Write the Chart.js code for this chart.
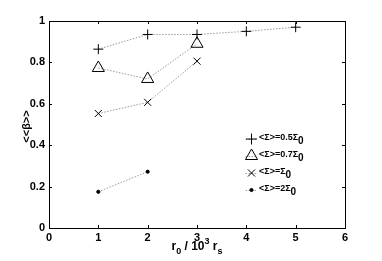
<!DOCTYPE html>
<html>
<head>
<meta charset="utf-8">
<script src="https://cdn.jsdelivr.net/npm/chart.js@4"></script>
<style>
  html, body { margin: 0; padding: 0; background: #fff; }
  #wrap { width: 382px; height: 261px; }
</style>
</head>
<body>
<div id="wrap"><canvas id="chart" width="382" height="261"></canvas></div>
<script>
// Data
const xHalf = [1, 2, 3, 4, 5];
const yHalf = [0.864, 0.935, 0.935, 0.95, 0.97];
const xSeven = [1, 2, 3];
const ySeven = [0.773, 0.72, 0.89];
const xOne = [1, 2, 3];
const yOne = [0.553, 0.607, 0.806];
const xTwo = [1, 2];
const yTwo = [0.175, 0.272];

const xTicks = [0, 1, 2, 3, 4, 5, 6];
const yTicks = [0, 0.2, 0.4, 0.6, 0.8, 1];

// legend: main text, subscript
const legendItems = [
    { text: '<\u03A3>=0.5\u03A3', sub: '0', style: 'cross', r: 5.5 },
    { text: '<\u03A3>=0.7\u03A3', sub: '0', style: 'triangle', r: 7 },
    { text: '<\u03A3>=\u03A3', sub: '0', style: 'crossRot', r: 5 },
    { text: '<\u03A3>=2\u03A3', sub: '0', style: 'circle', r: 1.6 }
];

const FONT = '"Liberation Sans", Arial, sans-serif';
const lineGray = '#9a9a9a';

function toPoints(xs, ys) {
    return xs.map((x, i) => ({ x: x, y: ys[i] }));
}

function makeSet(xs, ys, style, radius, fill) {
    return {
        data: toPoints(xs, ys),
        showLine: true,
        borderColor: lineGray,
        borderWidth: 1,
        borderDash: [1.5, 1.5],
        pointStyle: style,
        pointRadius: radius,
        pointBorderColor: '#000',
        pointBorderWidth: 1,
        pointBackgroundColor: fill ? '#000' : 'rgba(0,0,0,0)',
        tension: 0
    };
}

// frame, inward ticks, axis titles, legend
const decorations = {
    id: 'decorations',
    afterDatasetsDraw(chart) {
        const ctx = chart.ctx;
        const a = chart.chartArea;
        const xs = chart.scales.x;
        const ys = chart.scales.y;
        ctx.save();
        ctx.strokeStyle = '#000';
        ctx.lineWidth = 1;
        ctx.strokeRect(a.left + 0.5, a.top + 0.5, a.right - a.left, a.bottom - a.top);

        ctx.beginPath();
        xTicks.forEach(v => {
            const px = Math.round(xs.getPixelForValue(v)) + 0.5;
            ctx.moveTo(px, a.bottom); ctx.lineTo(px, a.bottom - 3);
            ctx.moveTo(px, a.top); ctx.lineTo(px, a.top + 3);
        });
        yTicks.forEach(v => {
            const py = Math.round(ys.getPixelForValue(v)) + 0.5;
            ctx.moveTo(a.left, py); ctx.lineTo(a.left + 3, py);
            ctx.moveTo(a.right, py); ctx.lineTo(a.right - 3, py);
        });
        ctx.stroke();

        // x title: r0 / 10^3 rs
        ctx.fillStyle = '#000';
        ctx.textBaseline = 'alphabetic';
        ctx.textAlign = 'left';
        const big = 'bold 12px ' + FONT;
        const small = 'bold 9px ' + FONT;
        const parts = [
            { t: 'r', f: big, dy: 0 },
            { t: '0', f: small, dy: 4 },
            { t: ' / 10', f: big, dy: 0 },
            { t: '3', f: small, dy: -6 },
            { t: ' r', f: big, dy: 0 },
            { t: 's', f: small, dy: 4 }
        ];
        let total = 0;
        parts.forEach(p => { ctx.font = p.f; total += ctx.measureText(p.t).width; });
        let cx = (a.left + a.right) / 2 - total / 2;
        const base = 250;
        parts.forEach(p => {
            ctx.font = p.f;
            ctx.fillText(p.t, cx, base + p.dy);
            cx += ctx.measureText(p.t).width;
        });

        // y title
        ctx.save();
        ctx.translate(30, (a.top + a.bottom) / 2 + 2);
        ctx.rotate(-Math.PI / 2);
        ctx.font = 'bold 11px ' + FONT;
        ctx.textAlign = 'center';
        ctx.fillText('<<\u03B2>>', 0, 0);
        ctx.restore();

        // legend
        const rowsY = [139, 156, 173, 190];
        const mx = 251.5;
        legendItems.forEach((it, i) => {
            const y = rowsY[i];
            ctx.save();
            ctx.strokeStyle = lineGray;
            ctx.setLineDash([1.5, 1.5]);
            ctx.beginPath();
            ctx.moveTo(mx - 6, y + 0.5);
            ctx.lineTo(mx + 5, y + 0.5);
            ctx.stroke();
            ctx.restore();
            ctx.strokeStyle = '#000';
            ctx.fillStyle = it.style === 'circle' ? '#000' : 'rgba(0,0,0,0)';
            ctx.lineWidth = 1;
            Chart.helpers.drawPoint(ctx, { pointStyle: it.style, radius: it.r, rotation: 0, borderWidth: 1 }, mx, y);
            ctx.fillStyle = '#000';
            ctx.font = 'bold 9px ' + FONT;
            ctx.fillText(it.text, 259, y + 1);
            const w = ctx.measureText(it.text).width;
            ctx.font = 'bold 10px ' + FONT;
            ctx.fillText(it.sub, 259 + w, y + 5);
        });
        ctx.restore();
    }
};

const ctx = document.getElementById('chart').getContext('2d');
const chart = new Chart(ctx, {
    type: 'scatter',
    data: {
        datasets: [
            makeSet(xHalf, yHalf, 'cross', 5, false),
            makeSet(xSeven, ySeven, 'triangle', 7, false),
            makeSet(xOne, yOne, 'crossRot', 5, false),
            makeSet(xTwo, yTwo, 'circle', 1.6, true)
        ]
    },
    options: {
        responsive: false,
        animation: false,
        devicePixelRatio: 1,
        layout: { padding: { top: 21, right: 37, left: 0, bottom: 0 } },
        plugins: {
            legend: { display: false },
            tooltip: { enabled: false }
        },
        scales: {
            x: {
                type: 'linear',
                min: 0,
                max: 6,
                afterBuildTicks: s => { s.ticks = xTicks.map(v => ({ value: v })); },
                afterFit: s => { s.height = 33; },
                grid: { display: false, drawTicks: false },
                border: { display: false },
                ticks: {
                    color: '#000',
                    padding: 3,
                    font: { family: FONT, size: 11, weight: 'bold' },
                    callback: v => String(v)
                }
            },
            y: {
                type: 'linear',
                min: 0,
                max: 1,
                afterBuildTicks: s => { s.ticks = yTicks.map(v => ({ value: v })); },
                afterFit: s => { s.width = 49; },
                grid: { display: false, drawTicks: false },
                border: { display: false },
                ticks: {
                    color: '#000',
                    padding: 4,
                    font: { family: FONT, size: 11, weight: 'bold' },
                    callback: v => String(Math.round(v * 10) / 10)
                }
            }
        }
    },
    plugins: [decorations]
});
</script>
</body>
</html>
